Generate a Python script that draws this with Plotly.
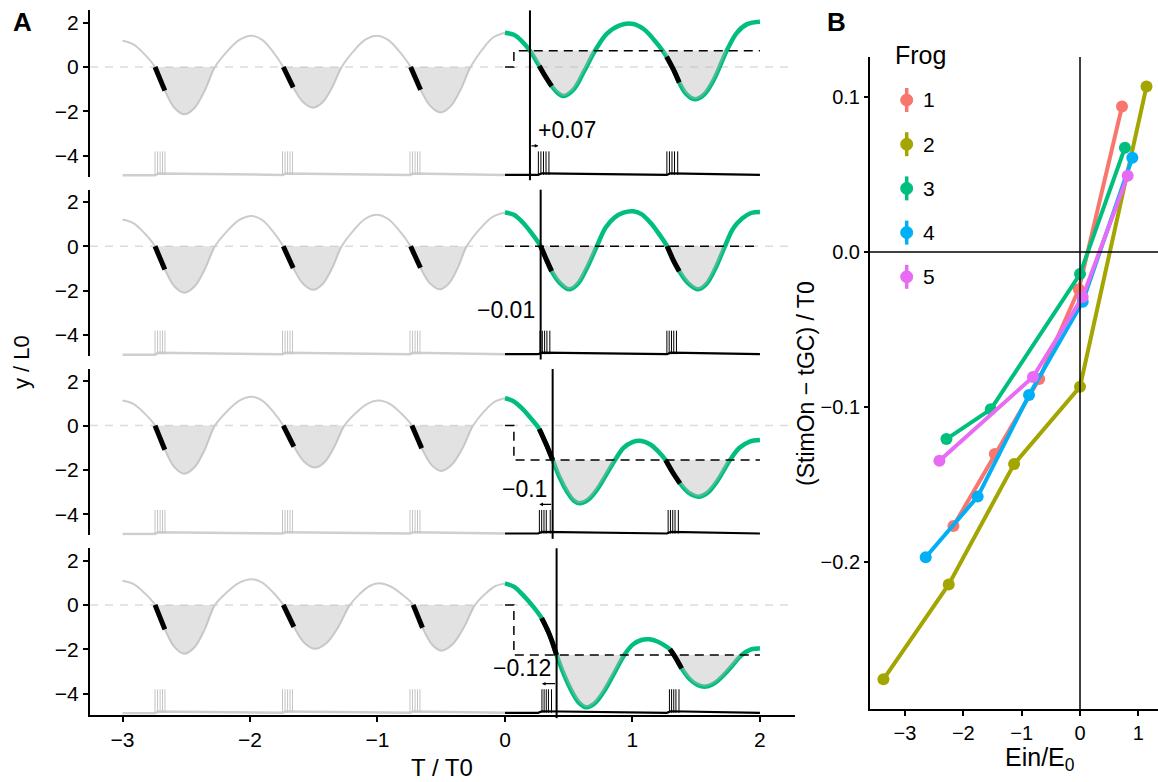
import plotly.graph_objects as go

W, H = 1158, 782
FONT = "Liberation Sans, Arial, sans-serif"

# ---------------- Panel A data (y/L0 vs T/T0, four example trials) ----------------
GRAY_X = [
    [-3.0, -2.915, -2.83, -2.745, -2.668, -2.592, -2.515, -2.435, -2.355, -2.275, -2.179, -2.083, -1.987, -1.904, -1.822, -1.739, -1.661, -1.582, -1.504, -1.43, -1.355, -1.281, -1.189, -1.098, -1.006, -0.917, -0.829, -0.74, -0.662, -0.583, -0.505, -0.427, -0.348, -0.27, -0.18, -0.09, 0.0],
    [-3.0, -2.915, -2.83, -2.745, -2.668, -2.592, -2.515, -2.435, -2.355, -2.275, -2.179, -2.083, -1.987, -1.904, -1.822, -1.739, -1.661, -1.582, -1.504, -1.43, -1.355, -1.281, -1.189, -1.098, -1.006, -0.917, -0.829, -0.74, -0.663, -0.587, -0.51, -0.44, -0.37, -0.30, -0.2, -0.1, 0.0],
    [-3.0, -2.915, -2.83, -2.745, -2.668, -2.592, -2.515, -2.435, -2.355, -2.275, -2.179, -2.083, -1.987, -1.904, -1.822, -1.739, -1.656, -1.573, -1.49, -1.413, -1.337, -1.26, -1.17, -1.08, -0.99, -0.903, -0.817, -0.73, -0.653, -0.577, -0.50, -0.417, -0.333, -0.25, -0.167, -0.083, 0.0],
    [-3.0, -2.915, -2.83, -2.745, -2.668, -2.592, -2.515, -2.435, -2.355, -2.275, -2.179, -2.083, -1.987, -1.904, -1.822, -1.739, -1.656, -1.573, -1.49, -1.399, -1.307, -1.216, -1.141, -1.065, -0.99, -0.9, -0.81, -0.72, -0.647, -0.573, -0.50, -0.412, -0.323, -0.235, -0.157, -0.078, 0.0],
]
GRAY_Y = [
    [1.18, 1.02, 0.59, 0.0, -1.065, -1.845, -2.13, -1.845, -1.065, 0.0, 0.705, 1.221, 1.41, 1.221, 0.705, 0.0, -0.915, -1.585, -1.83, -1.585, -0.915, 0.0, 0.705, 1.221, 1.41, 1.221, 0.705, 0.0, -1.025, -1.775, -2.05, -1.775, -1.025, 0.0, 0.773, 1.338, 1.545],
    [1.21, 1.048, 0.605, 0.0, -1.045, -1.81, -2.09, -1.81, -1.045, 0.0, 0.685, 1.186, 1.37, 1.186, 0.685, 0.0, -0.98, -1.697, -1.96, -1.697, -0.98, 0.0, 0.71, 1.23, 1.42, 1.23, 0.71, 0.0, -0.97, -1.68, -1.94, -1.68, -0.97, 0.0, 0.76, 1.316, 1.52],
    [1.13, 0.979, 0.565, 0.0, -1.085, -1.879, -2.17, -1.879, -1.085, 0.0, 0.65, 1.126, 1.30, 1.126, 0.65, 0.0, -0.945, -1.637, -1.89, -1.637, -0.945, 0.0, 0.565, 0.979, 1.13, 0.979, 0.565, 0.0, -1.02, -1.767, -2.04, -1.767, -1.02, 0.0, 0.615, 1.065, 1.23],
    [1.09, 0.944, 0.545, 0.0, -1.1, -1.905, -2.2, -1.905, -1.1, 0.0, 0.58, 1.005, 1.16, 1.005, 0.58, 0.0, -0.99, -1.715, -1.98, -1.715, -0.99, 0.0, 0.485, 0.84, 0.97, 0.84, 0.485, 0.0, -1.03, -1.784, -2.06, -1.784, -1.03, 0.0, 0.485, 0.84, 0.97],
]
GREEN_X = [
    [0.0, 0.07, 0.13, 0.196, 0.269, 0.32, 0.366, 0.41, 0.46, 0.54, 0.62, 0.706, 0.8, 0.9, 1.006, 1.09, 1.17, 1.237, 1.268, 1.32, 1.367, 1.42, 1.488, 1.56, 1.64, 1.739, 1.82, 1.9, 2.0],
    [0.0, 0.07, 0.14, 0.21, 0.28, 0.325, 0.366, 0.43, 0.504, 0.57, 0.645, 0.72, 0.79, 0.86, 0.93, 1.006, 1.07, 1.14, 1.205, 1.272, 1.32, 1.367, 1.44, 1.516, 1.58, 1.65, 1.725, 1.79, 1.86, 1.93, 2.0],
    [0.0, 0.06, 0.13, 0.2, 0.269, 0.32, 0.374, 0.43, 0.49, 0.54, 0.588, 0.65, 0.72, 0.79, 0.863, 0.93, 1.0, 1.072, 1.14, 1.2, 1.26, 1.315, 1.373, 1.44, 1.52, 1.59, 1.665, 1.765, 1.84, 1.92, 2.0],
    [0.0, 0.07, 0.14, 0.21, 0.288, 0.35, 0.405, 0.46, 0.52, 0.58, 0.636, 0.7, 0.77, 0.85, 0.936, 1.0, 1.07, 1.133, 1.2, 1.25, 1.294, 1.326, 1.386, 1.45, 1.51, 1.576, 1.65, 1.75, 1.857, 1.93, 2.0],
]
GREEN_Y = [
    [1.545, 1.45, 1.18, 0.73, 0.05, -0.45, -0.86, -1.15, -1.31, -1.0, -0.2, 0.73, 1.5, 1.88, 1.94, 1.7, 1.22, 0.73, 0.46, -0.1, -0.7, -1.2, -1.455, -1.25, -0.55, 0.73, 1.55, 1.93, 2.04],
    [1.52, 1.42, 1.07, 0.58, 0.0, -0.6, -1.12, -1.65, -1.94, -1.7, -0.95, 0.0, 0.85, 1.3, 1.52, 1.58, 1.45, 1.07, 0.58, 0.0, -0.62, -1.12, -1.68, -1.94, -1.7, -1.0, 0.0, 0.8, 1.25, 1.5, 1.55],
    [1.23, 1.12, 0.8, 0.35, -0.15, -0.8, -1.55, -2.35, -3.0, -3.38, -3.5, -3.35, -2.9, -2.25, -1.55, -1.0, -0.74, -0.69, -0.85, -1.15, -1.55, -2.1, -2.6, -3.02, -3.2, -3.02, -2.5, -1.55, -1.0, -0.72, -0.65],
    [0.97, 0.82, 0.45, 0.0, -0.6, -1.35, -2.26, -3.1, -3.85, -4.4, -4.61, -4.45, -3.95, -3.15, -2.26, -1.8, -1.58, -1.55, -1.66, -1.82, -2.0, -2.26, -2.86, -3.35, -3.6, -3.68, -3.5, -2.95, -2.26, -2.0, -1.96],
]
LEVELS = [0.73, 0.0, -1.55, -2.26]
LEVEL_CORNER = [0.07, 0.07, 0.07, 0.07]
T_GC = [0.196, 0.28, 0.374, 0.405]
DELAY_LABELS = ["+0.07", "\u22120.01", "\u22120.1", "\u22120.12"]

STIM_GRAY = [
    [(-2.745, -2.66), (-1.739, -1.65), (-0.74, -0.655)],
    [(-2.745, -2.66), (-1.739, -1.65), (-0.74, -0.655)],
    [(-2.745, -2.66), (-1.739, -1.65), (-0.73, -0.645)],
    [(-2.745, -2.66), (-1.739, -1.65), (-0.72, -0.64)],
]
STIM_GREEN = [
    [(0.269, 0.366), (1.268, 1.367)],
    [(0.28, 0.366), (1.272, 1.367)],
    [(0.269, 0.374), (1.26, 1.373)],
    [(0.288, 0.405), (1.294, 1.386)],
]
SPIKES_GRAY = [-2.745, -2.725, -2.705, -2.686, -2.667,
               -1.745, -1.725, -1.705, -1.686, -1.667,
               -0.745, -0.725, -0.705, -0.686, -0.667]
SPIKES_BLACK = [
    [0.262, 0.282, 0.302, 0.322, 0.345, 1.27, 1.29, 1.31, 1.33, 1.355],
    [0.275, 0.293, 0.311, 0.329, 0.352, 1.27, 1.288, 1.306, 1.324, 1.345],
    [0.27, 0.288, 0.306, 0.324, 0.355, 1.28, 1.298, 1.316, 1.334, 1.36],
    [0.29, 0.307, 0.324, 0.341, 0.365, 1.29, 1.307, 1.324, 1.341, 1.365],
]
SPIKE_BASE, SPIKE_TOP = -4.86, -3.8
BASE_GRAY_X = [-3.0, -2.745, -2.72, -2.3, -1.745, -1.72, -1.3, -0.745, -0.72, -0.3, 0.0]
BASE_GRAY_Y = [-4.88, -4.88, -4.80, -4.83, -4.86, -4.80, -4.83, -4.86, -4.80, -4.84, -4.86]
BASE_BLACK_X = [0.0, 0.26, 0.29, 0.7, 1.27, 1.30, 1.7, 2.0]
BASE_BLACK_Y = [-4.86, -4.86, -4.79, -4.83, -4.86, -4.79, -4.84, -4.86]

# ---------------- Panel B data ----------------
FROGS = ["1", "2", "3", "4", "5"]
FROG_COLORS = ["#F8766D", "#A3A500", "#00BF7D", "#00B0F6", "#E76BF3"]
EIN = [
    [-2.17, -1.46, -0.70, -0.02, 0.72],
    [-3.37, -2.25, -1.13, 0.0, 1.14],
    [-2.29, -1.53, 0.0, 0.77],
    [-2.645, -1.754, -0.874, 0.046, 0.897],
    [-2.41, -0.806, 0.046, 0.817],
]
STIM_MINUS_TGC = [
    [-0.177, -0.1305, -0.082, -0.024, 0.094],
    [-0.276, -0.2147, -0.137, -0.087, 0.107],
    [-0.1208, -0.1016, -0.0142, 0.0674],
    [-0.1972, -0.158, -0.0924, -0.0321, 0.0609],
    [-0.1348, -0.0807, -0.029, 0.0493],
]

# ---------------- layout geometry (pixels) ----------------
A_LEFT, A_RIGHT = 90, 795
A_ZERO0, A_STEP, A_PPU = 67, 179.3, 22.2
A_YR = [-4.95, 2.55]
A_XR = [-3.255, 2.275]
B_LEFT, B_TOP, B_BOT = 870, 57, 709
B_XR = [-3.6, 1.337]
B_YR = [-0.2952, 0.126]


def px(x):
    return x / W


def py(y):
    return 1 - y / H


def troughs(xs, ys, level):
    out = []
    i, n = 0, len(xs)
    while i < n - 1:
        if abs(ys[i] - level) < 1e-9 and ys[i + 1] < level:
            j = i + 1
            while j < n and ys[j] < level - 1e-9:
                j += 1
            if j < n:
                out.append((xs[i:j + 1], ys[i:j + 1]))
            i = j
        else:
            i += 1
    return out


fig = go.Figure()
shapes, annotations = [], []
axis_font = dict(family=FONT, size=21, color="black")
b_font = dict(family=FONT, size=20, color="black")

for p in range(4):
    xa = "x" if p == 0 else f"x{p+1}"
    ya = "y" if p == 0 else f"y{p+1}"
    zero = A_ZERO0 + A_STEP * p
    top = zero - A_YR[1] * A_PPU
    bot = zero - A_YR[0] * A_PPU
    xkey = "xaxis" if p == 0 else f"xaxis{p+1}"
    ykey = "yaxis" if p == 0 else f"yaxis{p+1}"
    last = p == 3
    fig.layout[xkey] = dict(
        domain=[px(A_LEFT), px(A_RIGHT)], range=A_XR, anchor=ya,
        showgrid=False, zeroline=False, visible=last,
        showline=last, linecolor="black", linewidth=2,
        ticks="outside" if last else "", ticklen=5, tickwidth=2, tickcolor="black",
        tickvals=[-3, -2, -1, 0, 1, 2], ticktext=["\u22123", "\u22122", "\u22121", "0", "1", "2"],
        tickfont=axis_font, showticklabels=last,
    )
    fig.layout[ykey] = dict(
        domain=[py(bot), py(top)], range=A_YR, anchor=xa,
        showgrid=False, zeroline=False, showline=True, linecolor="black", linewidth=2,
        ticks="outside", ticklen=5, tickwidth=2, tickcolor="black",
        tickvals=[-4, -2, 0, 2], ticktext=["\u22124", "\u22122", "0", "2"], tickfont=axis_font,
    )
    shapes.append(dict(type="line", xref=f"{xa} domain", yref=ya, x0=0, x1=1, y0=0, y1=0,
                       line=dict(color="#dcdcdc", width=1.5, dash="8px,7px"), layer="below"))

    gx, gy = GRAY_X[p], GRAY_Y[p]
    cx, cy = GREEN_X[p], GREEN_Y[p]
    lev = LEVELS[p]

    fig.add_trace(go.Scatter(x=BASE_GRAY_X, y=BASE_GRAY_Y, mode="lines", xaxis=xa, yaxis=ya,
                             line=dict(color="#cfcfcf", width=2.5), showlegend=False, hoverinfo="skip"))
    fig.add_trace(go.Scatter(x=BASE_BLACK_X, y=BASE_BLACK_Y, mode="lines", xaxis=xa, yaxis=ya,
                             line=dict(color="black", width=2.2), showlegend=False, hoverinfo="skip"))
    for times, col in [(SPIKES_GRAY, "#c4c4c4"), (SPIKES_BLACK[p], "black")]:
        sx, sy = [], []
        for t in times:
            sx += [t, t, None]
            sy += [SPIKE_BASE, SPIKE_TOP, None]
        fig.add_trace(go.Scatter(x=sx, y=sy, mode="lines", xaxis=xa, yaxis=ya,
                                 line=dict(color=col, width=1), showlegend=False, hoverinfo="skip"))

    fig.add_trace(go.Scatter(x=gx, y=gy, mode="lines", xaxis=xa, yaxis=ya,
                             line=dict(color="#cccccc", width=2, shape="spline", smoothing=1.0),
                             showlegend=False, hoverinfo="skip"))
    fig.add_trace(go.Scatter(x=cx, y=cy, mode="lines", xaxis=xa, yaxis=ya,
                             line=dict(color="#00BF7D", width=4.5, shape="spline", smoothing=1.0),
                             showlegend=False, hoverinfo="skip"))

    for tx, ty in troughs(gx, gy, 0.0) + troughs(cx, cy, lev):
        fig.add_trace(go.Scatter(x=tx, y=ty, mode="lines", fill="toself",
                                 fillcolor="rgba(185,185,185,0.42)", xaxis=xa, yaxis=ya,
                                 line=dict(width=0, shape="spline", smoothing=1.0),
                                 showlegend=False, hoverinfo="skip"))

    for (xs, ys, ivs) in [(gx, gy, STIM_GRAY[p]), (cx, cy, STIM_GREEN[p])]:
        for a, b in ivs:
            seg = [(x, y) for x, y in zip(xs, ys) if a - 1e-9 <= x <= b + 1e-9]
            fig.add_trace(go.Scatter(x=[s[0] for s in seg], y=[s[1] for s in seg], mode="lines",
                                     xaxis=xa, yaxis=ya,
                                     line=dict(color="black", width=5, shape="spline", smoothing=1.0),
                                     showlegend=False, hoverinfo="skip"))

    fig.add_trace(go.Scatter(x=[0, LEVEL_CORNER[p], LEVEL_CORNER[p], 2.0], y=[0, 0, lev, lev],
                             mode="lines", xaxis=xa, yaxis=ya,
                             line=dict(color="black", width=1.5, dash="9px,6px"),
                             showlegend=False, hoverinfo="skip"))
    shapes.append(dict(type="line", xref=xa, yref=f"{ya} domain", x0=T_GC[p], x1=T_GC[p],
                       y0=-0.02, y1=1, line=dict(color="black", width=2), layer="above"))
    first_spike = SPIKES_BLACK[p][0]
    if p == 0:
        annotations.append(dict(x=T_GC[p] + 0.05, y=-2.85, xref=xa, yref=ya, text=DELAY_LABELS[p],
                                showarrow=False, xanchor="left", yanchor="middle",
                                font=dict(family=FONT, size=23, color="black")))
    else:
        annotations.append(dict(x=T_GC[p] - 0.03, y=-2.85, xref=xa, yref=ya, text=DELAY_LABELS[p],
                                showarrow=False, xanchor="right", yanchor="middle",
                                font=dict(family=FONT, size=23, color="black")))
    if abs(first_spike - T_GC[p]) > 0.02:
        annotations.append(dict(x=first_spike, y=-3.55, ax=T_GC[p], ay=-3.55, xref=xa, yref=ya,
                                axref=xa, ayref=ya, text="", showarrow=True, arrowhead=2,
                                arrowsize=0.6, arrowwidth=1.2, arrowcolor="black"))

# ---------------- Panel B ----------------
fig.layout["xaxis5"] = dict(
    domain=[px(B_LEFT), 1.0], range=B_XR, anchor="y5", showgrid=False, zeroline=False,
    showline=True, linecolor="black", linewidth=2, ticks="outside", ticklen=5, tickwidth=2,
    tickcolor="black", tickvals=[-3, -2, -1, 0, 1],
    ticktext=["\u22123", "\u22122", "\u22121", "0", "1"], tickfont=b_font,
)
fig.layout["yaxis5"] = dict(
    domain=[py(B_BOT), py(B_TOP)], range=B_YR, anchor="x5", showgrid=False, zeroline=False,
    showline=True, linecolor="black", linewidth=2, ticks="outside", ticklen=4, tickwidth=2,
    tickcolor="black", tickvals=[-0.2, -0.1, 0.0, 0.1],
    ticktext=["\u22120.2", "\u22120.1", "0.0", "0.1"], tickfont=b_font,
)
for i in range(5):
    fig.add_trace(go.Scatter(x=EIN[i], y=STIM_MINUS_TGC[i], mode="lines+markers", name=FROGS[i],
                             xaxis="x5", yaxis="y5", line=dict(color=FROG_COLORS[i], width=4),
                             marker=dict(color=FROG_COLORS[i], size=12), showlegend=False))
shapes.append(dict(type="line", xref="x5", yref="y5 domain", x0=0, x1=0, y0=0, y1=1,
                   line=dict(color="black", width=1.5), layer="above"))
shapes.append(dict(type="line", xref="x5 domain", yref="y5", x0=0, x1=1, y0=0, y1=0,
                   line=dict(color="black", width=1.5), layer="above"))

LEG_X, LEG_Y0, LEG_DY = 906.7, 100, 44.2
annotations.append(dict(x=px(893), y=py(55), xref="paper", yref="paper", text="Frog", showarrow=False,
                        xanchor="left", yanchor="middle", font=dict(family=FONT, size=25, color="black")))
for i in range(5):
    yc = LEG_Y0 + LEG_DY * i
    shapes.append(dict(type="line", xref="paper", yref="paper", x0=px(LEG_X), x1=px(LEG_X),
                       y0=py(yc - 12), y1=py(yc + 12), line=dict(color=FROG_COLORS[i], width=3.5)))
    shapes.append(dict(type="circle", xref="paper", yref="paper", x0=px(LEG_X - 6), x1=px(LEG_X + 6),
                       y0=py(yc + 6), y1=py(yc - 6), fillcolor=FROG_COLORS[i],
                       line=dict(color=FROG_COLORS[i], width=1)))
    annotations.append(dict(x=px(921), y=py(yc), xref="paper", yref="paper", text=FROGS[i],
                            showarrow=False, xanchor="left", yanchor="middle",
                            font=dict(family=FONT, size=21, color="black")))

annotations += [
    dict(x=px(22), y=py(22), xref="paper", yref="paper", text="<b>A</b>", showarrow=False,
         xanchor="center", yanchor="middle", font=dict(family=FONT, size=26, color="black")),
    dict(x=px(836), y=py(22), xref="paper", yref="paper", text="<b>B</b>", showarrow=False,
         xanchor="center", yanchor="middle", font=dict(family=FONT, size=26, color="black")),
    dict(x=px(442), y=py(767), xref="paper", yref="paper", text="T / T0", showarrow=False,
         xanchor="center", yanchor="middle", font=dict(family=FONT, size=24, color="black")),
    dict(x=px(21), y=py(362), xref="paper", yref="paper", text="y / L0", showarrow=False, textangle=-90,
         xanchor="center", yanchor="middle", font=dict(family=FONT, size=22, color="black")),
    dict(x=px(806), y=py(384), xref="paper", yref="paper", text="(StimOn \u2212 tGC) / T0", showarrow=False,
         textangle=-90, xanchor="center", yanchor="middle", font=dict(family=FONT, size=23, color="black")),
    dict(x=px(1040), y=py(741), xref="paper", yref="paper", text="Ein/E<sub>0</sub>", showarrow=False,
         xanchor="center", yanchor="top", font=dict(family=FONT, size=25, color="black")),
]

fig.update_layout(
    width=W, height=H, margin=dict(l=0, r=0, t=0, b=0),
    plot_bgcolor="white", paper_bgcolor="white",
    shapes=shapes, annotations=annotations, showlegend=False,
    font=dict(family=FONT, color="black"),
)
fig.write_html("out.html")
